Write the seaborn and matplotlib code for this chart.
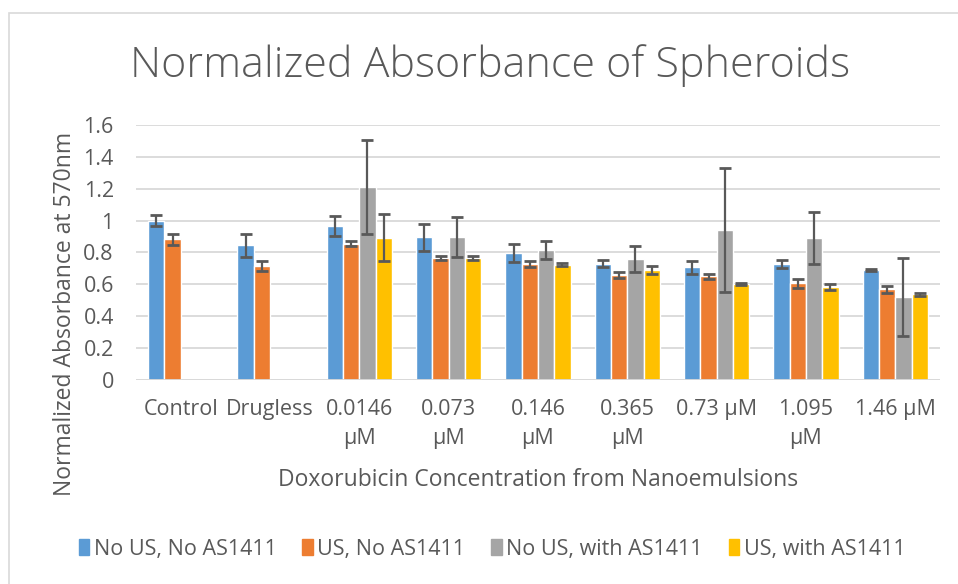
import numpy as np
import pandas as pd
import matplotlib
matplotlib.use("Agg")
import matplotlib.pyplot as plt
import seaborn as sns
from matplotlib.patches import Rectangle

# data
categories = ["Control", "Drugless", "0.0146\nµM", "0.073\nµM", "0.146\nµM",
              "0.365\nµM", "0.73 µM", "1.095\nµM", "1.46 µM"]
series = ["No US, No AS1411", "US, No AS1411", "No US, with AS1411", "US, with AS1411"]

no_us_no_apt = [1.00, 0.845, 0.965, 0.895, 0.797, 0.730, 0.706, 0.725, 0.690]
us_no_apt = [0.882, 0.716, 0.854, 0.766, 0.726, 0.660, 0.652, 0.606, 0.569]
no_us_apt = [np.nan, np.nan, 1.21, 0.896, 0.814, 0.757, 0.942, 0.889, 0.520]
us_apt = [np.nan, np.nan, 0.894, 0.766, 0.724, 0.692, 0.603, 0.583, 0.537]

err_no_us_no_apt = [0.033, 0.073, 0.063, 0.084, 0.054, 0.022, 0.040, 0.025, 0.008]
err_us_no_apt = [0.035, 0.032, 0.016, 0.014, 0.019, 0.019, 0.016, 0.030, 0.021]
err_no_us_apt = [np.nan, np.nan, 0.297, 0.125, 0.056, 0.081, 0.387, 0.163, 0.247]
err_us_apt = [np.nan, np.nan, 0.148, 0.012, 0.008, 0.025, 0.008, 0.021, 0.010]

colors = ["#5B9BD5", "#ED7D31", "#A5A5A5", "#FFC000"]
text_color = "#595959"

values = [no_us_no_apt, us_no_apt, no_us_apt, us_apt]
errors = [err_no_us_no_apt, err_us_no_apt, err_no_us_apt, err_us_apt]

rows = []
for s, vals, errs in zip(series, values, errors):
    for c, v, e in zip(categories, vals, errs):
        rows.append({"cat": c, "series": s, "value": v, "err": e})
df = pd.DataFrame(rows)
df_plot = df.dropna(subset=["value"])

sns.set_theme(style="white")
plt.rcParams["font.family"] = ["Open Sans", "DejaVu Sans"]

fig = plt.figure(figsize=(9.58, 5.84), dpi=100)
ax = fig.add_axes([136 / 958, 1 - 380 / 584, (940 - 136) / 958, (380 - 125) / 584])

sns.barplot(data=df_plot, x="cat", y="value", hue="series", order=categories,
            hue_order=series, palette=colors, errorbar=None, width=0.73,
            saturation=1, ax=ax, legend=True)

# error bars at the centre of every drawn bar
for s, cont in zip(series, ax.containers):
    sub = df[df["series"] == s].set_index("cat")
    for bar in cont:
        h = bar.get_height()
        if np.isnan(h):
            continue
        xc = bar.get_x() + bar.get_width() / 2
        cat = categories[int(round(xc))]
        ax.errorbar(xc, h, yerr=sub.loc[cat, "err"], color="#595959",
                    elinewidth=1.6, capsize=4.3, capthick=2, zorder=5)

ax.set_ylim(0, 1.6)
ax.set_xlim(-0.5, len(categories) - 0.5)
ax.set_yticks(np.arange(0, 1.61, 0.2))
ax.set_yticklabels(["0", "0.2", "0.4", "0.6", "0.8", "1", "1.2", "1.4", "1.6"])
ax.yaxis.grid(True, color="#D9D9D9", linewidth=1.3)
ax.set_axisbelow(True)
for sp in ax.spines.values():
    sp.set_visible(False)
ax.axhline(0, color="#D9D9D9", linewidth=1.3, zorder=1)
ax.tick_params(axis="y", length=0, pad=16, labelsize=15.5, labelcolor=text_color)
ax.tick_params(axis="x", length=0, pad=14, labelsize=15.5, labelcolor=text_color)
for t in ax.get_xticklabels():
    t.set_linespacing(1.45)
    t.set_verticalalignment("top")
ax.set_xlabel("")
ax.set_ylabel("")

fig.text(538 / 958, 1 - 480 / 584, "Doxorubicin Concentration from Nanoemulsions",
         ha="center", va="center", fontsize=16.5, color=text_color)
fig.text(65 / 958, 1 - 314 / 584, "Normalized Absorbance at 570nm", rotation=90,
         ha="center", va="center", fontsize=16.5, color=text_color)
fig.text(490 / 958, 1 - 66 / 584, "Normalized Absorbance of Spheroids",
         ha="center", va="center", fontsize=31, color=text_color, fontweight="light")

ax.get_legend().remove()
handles = [Rectangle((0, 0), 1, 1, color=c) for c in colors]
fig.legend(handles, series, loc="center", bbox_to_anchor=(492 / 958, 1 - 549 / 584),
           ncol=4, frameon=False, fontsize=15.5, handlelength=0.5, handleheight=0.8,
           handletextpad=0.2, columnspacing=1.2, labelcolor=text_color)

fig.add_artist(Rectangle((9 / 958, -0.05), 1.1, 1 - 13 / 584 + 0.05,
                         transform=fig.transFigure, fill=False,
                         edgecolor="#D9D9D9", linewidth=1.2))

fig.savefig("out.png", dpi=100)
